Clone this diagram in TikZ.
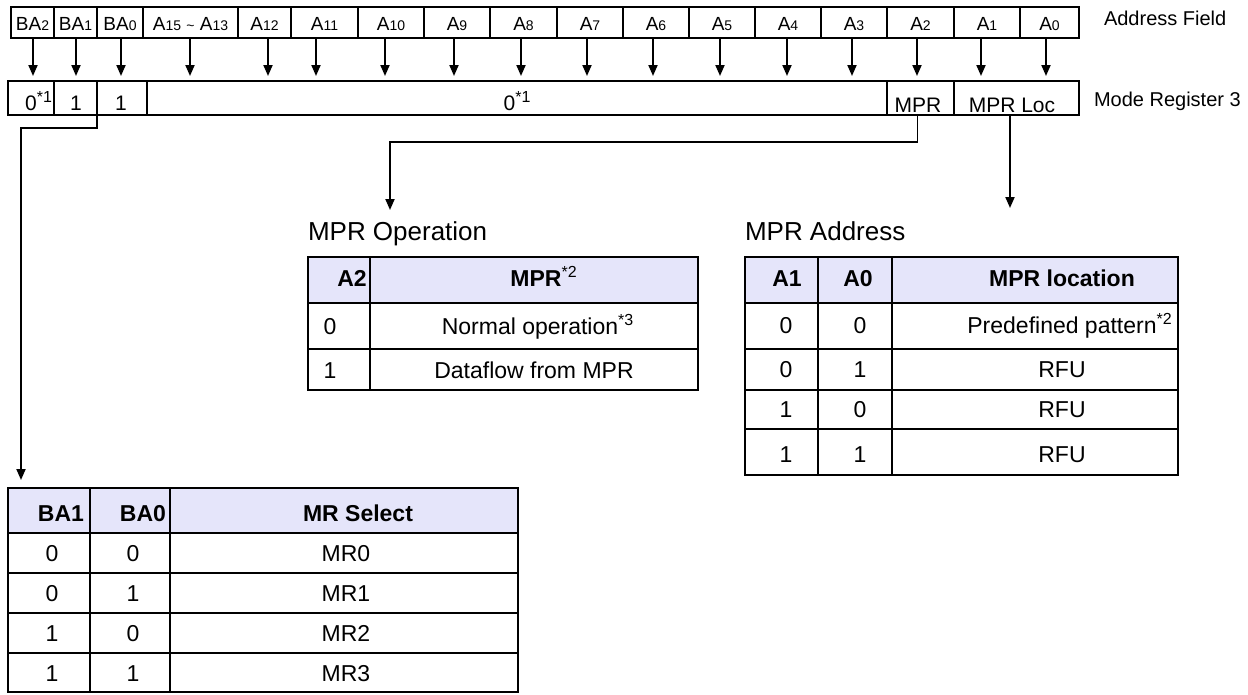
\documentclass[tikz,border=0pt]{standalone}
\usepackage{fontspec}
\setmainfont{Liberation Sans}
\usetikzlibrary{arrows.meta,calc}
\definecolor{hdr}{RGB}{229,229,250}
\tikzset{
  box/.style={draw, line width=2.1pt, inner sep=0pt, outer sep=0pt},
  hbox/.style={box, fill=hdr},
  arr/.style={line width=1.9pt, -{Triangle[width=9pt,length=11pt]}},
  txt/.style={inner sep=0pt, outer sep=0pt},
}
\newcommand\fTop{\fontsize{19}{22}\selectfont}
\newcommand\fSub{\fontsize{14}{16}\selectfont}
\newcommand\fReg{\fontsize{21}{24}\selectfont}
\newcommand\fSide{\fontsize{20}{24}\selectfont}
\newcommand\fTitle{\fontsize{26}{30}\selectfont}
\newcommand\fTab{\fontsize{23}{27}\selectfont}
\newcommand\fTabB{\fontsize{23}{27}\selectfont\bfseries}
\newcommand\mysup[1]{\raisebox{0.36em}{\fontsize{16}{16}\selectfont\mdseries #1}}
\newcommand\cellat[6]{%
  \pgfmathsetmacro\myW{#4-#2}\pgfmathsetmacro\myH{#5-#3}%
  \pgfmathsetmacro\myX{(#2+#4)/2}\pgfmathsetmacro\myY{(#3+#5)/2}%
  \node[#6, minimum width=\myW pt, minimum height=\myH pt] (#1) at (\myX,\myY) {};}
\begin{document}
\begin{tikzpicture}[x=1pt,y=-1pt]
\useasboundingbox (0,0) rectangle (1248,694);
\fill[white] (0,0) rectangle (1248,694);

% ---------- Mode register row ----------
\cellat{r0}{8}{81}{54}{115}{box}
\cellat{r1}{54}{81}{97}{115}{box}
\cellat{r2}{97}{81}{147}{115}{box}
\cellat{rz}{147}{81}{887}{115}{box}
\cellat{r3}{887}{81}{954}{115}{box}
\cellat{r4}{954}{81}{1079}{115}{box}
\node[txt, font=\fReg, anchor=base] (lr0) at (31,110) {0\rlap{\mysup{*1}}};
\node[txt, font=\fReg, anchor=base] (lr1) at (76,110) {1};
\node[txt, font=\fReg, anchor=base] (lr2) at (121,110) {1};
\node[txt, font=\fReg, anchor=base] (lrz) at (517,110) {0\mysup{*1}};
\node[txt, font=\fReg, anchor=base] (lr3) at (918,112) {MPR};
\node[txt, font=\fReg, anchor=base] (lr4) at (1012,112) {MPR Loc};

% ---------- Address field row with arrows ----------
\foreach \n/\a/\b/\ax/\t in {
  t0/11/54/33/{BA{\fSub 2}},
  t1/54/97/76/{BA{\fSub 1}},
  t2/97/143/121/{BA{\fSub 0}},
  t3/143/238/190/{A{\fSub 15} {\fSub\textasciitilde} A{\fSub 13}},
  t4/238/291/268/{A{\fSub 12}},
  t5/291/358/316/{A{\fSub 11}},
  t6/358/424/385/{A{\fSub 10}},
  t7/424/490/454/{A{\fSub 9}},
  t8/490/557/521/{A{\fSub 8}},
  t9/557/623/587/{A{\fSub 7}},
  t10/623/689/653/{A{\fSub 6}},
  t11/689/755/720/{A{\fSub 5}},
  t12/755/821/787/{A{\fSub 4}},
  t13/821/887/852/{A{\fSub 3}},
  t14/887/954/917/{A{\fSub 2}},
  t15/954/1020/981/{A{\fSub 1}},
  t16/1020/1079/1046/{A{\fSub 0}}}{
  \cellat{\n}{\a}{7}{\b}{38}{box}
  \node[txt, font=\fTop, anchor=base] (l\n) at ($(\n.center)+(0,7.5)$) {\t};
  \pgfmathsetmacro\dx{\ax-(\a+\b)/2}
  \draw[arr, shorten >=5pt] ([xshift=\dx pt]\n.south) -- ([xshift=\dx pt]\n.south |- rz.north);
}

% side labels
\node[txt, font=\fSide, anchor=base west] (af) at (1104,25) {Address Field};
\node[txt, font=\fSide, anchor=base west] (mr3) at (1094,106) {Mode Register 3};

% ---------- connectors ----------
\coordinate (mrin) at (21,480);
\coordinate (opin) at (390,210);
\coordinate (adin) at (1010,208);
\draw[arr] (r2.south west) -- ++(0,13) -| (mrin);
\draw[arr] ([xshift=-3pt]r3.south) -- ++(0,27) -| (opin);
\draw[arr] (r4.south -| adin) -- (adin);

% ---------- titles ----------
\node[txt, font=\fTitle, anchor=base west] (opt) at (308,240) {MPR Operation};
\node[txt, font=\fTitle, anchor=base west] (adt) at (745,240) {MPR Address};

% ---------- MPR Operation table ----------
\cellat{oh1}{308}{257}{370}{303}{hbox}
\cellat{oh2}{370}{257}{698}{303}{hbox}
\cellat{o11}{308}{303}{370}{349}{box}
\cellat{o12}{370}{303}{698}{349}{box}
\cellat{o21}{308}{349}{370}{390}{box}
\cellat{o22}{370}{349}{698}{390}{box}
\node[txt, font=\fTabB, anchor=base] (toh1) at (352,286) {A2};
\node[txt, font=\fTabB, anchor=base] (toh2) at (536,286) {MPR\rlap{\mysup{*2}}};
\node[txt, font=\fTab, anchor=base] (to11) at (330,334) {0};
\node[txt, font=\fTab, anchor=base] (to12) at (530,334) {Normal operation\rlap{\mysup{*3}}};
\node[txt, font=\fTab, anchor=base] (to21) at (330,378) {1};
\node[txt, font=\fTab, anchor=base] (to22) at (534,378) {Dataflow from MPR};

% ---------- MPR Address table ----------
\cellat{ah1}{745}{257}{818}{303}{hbox}
\cellat{ah2}{818}{257}{892}{303}{hbox}
\cellat{ah3}{892}{257}{1178}{303}{hbox}
\foreach \r/\ya/\yb/\base/\va/\vb/\vc in {
  1/303/349/333/0/0/{Predefined pattern\rlap{\mysup{*2}}},
  2/349/390/377/0/1/RFU,
  3/390/429/417/1/0/RFU,
  4/429/475/462/1/1/RFU}{
  \cellat{a\r1}{745}{\ya}{818}{\yb}{box}
  \cellat{a\r2}{818}{\ya}{892}{\yb}{box}
  \cellat{a\r3}{892}{\ya}{1178}{\yb}{box}
  \node[txt, font=\fTab, anchor=base] (ta\r1) at (786,\base) {\va};
  \node[txt, font=\fTab, anchor=base] (ta\r2) at (860,\base) {\vb};
  \node[txt, font=\fTab, anchor=base] (ta\r3) at (1062,\base) {\vc};
}
\node[txt, font=\fTabB, anchor=base] (tah1) at (787,286) {A1};
\node[txt, font=\fTabB, anchor=base] (tah2) at (858,286) {A0};
\node[txt, font=\fTabB, anchor=base] (tah3) at (1062,286) {MPR location};

% ---------- MR Select table ----------
\cellat{mh1}{8}{488}{90}{533}{hbox}
\cellat{mh2}{90}{488}{170}{533}{hbox}
\cellat{mh3}{170}{488}{518}{533}{hbox}
\foreach \r/\ya/\yb/\base/\va/\vb/\vc in {
  1/533/573/561/0/0/MR0,
  2/573/613/601/0/1/MR1,
  3/613/653/641/1/0/MR2,
  4/653/692/681/1/1/MR3}{
  \cellat{m\r1}{8}{\ya}{90}{\yb}{box}
  \cellat{m\r2}{90}{\ya}{170}{\yb}{box}
  \cellat{m\r3}{170}{\ya}{518}{\yb}{box}
  \node[txt, font=\fTab, anchor=base] (tm\r1) at (52,\base) {\va};
  \node[txt, font=\fTab, anchor=base] (tm\r2) at (133,\base) {\vb};
  \node[txt, font=\fTab, anchor=base] (tm\r3) at (346,\base) {\vc};
}
\node[txt, font=\fTabB, anchor=base] (tmh1) at (61,521) {BA1};
\node[txt, font=\fTabB, anchor=base] (tmh2) at (143,521) {BA0};
\node[txt, font=\fTabB, anchor=base] (tmh3) at (358,521) {MR Select};
\end{tikzpicture}
\end{document}
